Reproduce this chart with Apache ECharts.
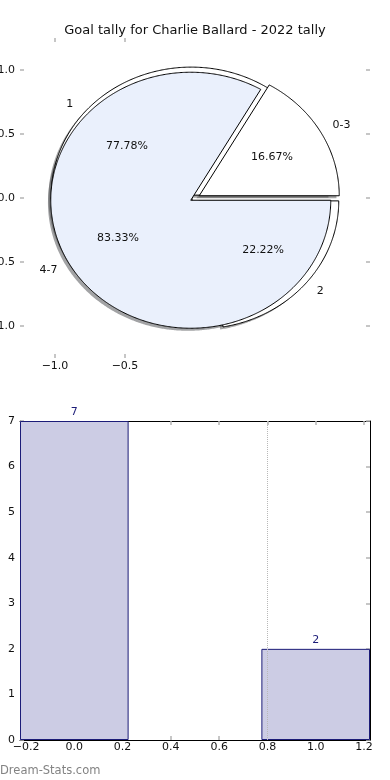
<!DOCTYPE html>
<html><head><meta charset="utf-8">
<script src="https://cdn.jsdelivr.net/npm/echarts@6/dist/echarts.min.js"></script>
<style>html,body{margin:0;padding:0;background:#fff}#c{width:390px;height:780px}</style>
</head><body><div id="c"></div>
<script>
// ---- data ----
const titleText = 'Goal tally for Charlie Ballard - 2022 tally';
const outerLabels = ['1', '2'];
const outerValues = [7, 2];
const innerLabels = ['0-3', '4-7'];
const innerValues = [1, 5];
const barCategories = [0, 1];
const barValues = [7, 2];
const pieXTicks = [-1.0, -0.5];
const pieYTicks = [-1.0, -0.5, 0.0, 0.5, 1.0];
const barXTicks = [-0.2, 0.0, 0.2, 0.4, 0.6, 0.8, 1.0, 1.2];
const barYTicks = [0, 1, 2, 3, 4, 5, 6, 7];
const barRefLines = [0.8];
const watermark = 'Dream-Stats.com';

// ---- styles ----
const FONT = 'DejaVu Sans';
const EXPLODE = 0.035;
const SHADOW_OFF = 0.02;
const outerColors = ['#ffffff', '#ffffff'];
const innerColors = ['#ffffff', '#eaf0fc'];
const TICK = '#b4b4b4';

function fmt1(v) { return (v < 0 ? '\u2212' : '') + Math.abs(v).toFixed(1); }

function sliceGeom(values, i) {
  const total = values.reduce((a, b) => a + b, 0);
  let cum = 0;
  for (let k = 0; k < i; k++) cum += values[k];
  const a0 = 360 * cum / total, a1 = 360 * (cum + values[i]) / total;
  return { a0, a1, mid: (a0 + a1) / 2, frac: values[i] / total };
}

function wedgePoints(api, g, dx, dy) {
  const m = g.mid * Math.PI / 180;
  const cx = EXPLODE * Math.cos(m) + dx, cy = EXPLODE * Math.sin(m) + dy;
  const pts = [api.coord([cx, cy])];
  const n = Math.max(2, Math.ceil((g.a1 - g.a0) * 2));
  for (let k = 0; k <= n; k++) {
    const a = (g.a0 + (g.a1 - g.a0) * k / n) * Math.PI / 180;
    pts.push(api.coord([cx + Math.cos(a), cy + Math.sin(a)]));
  }
  return pts;
}

function shadowColor(hex) {
  const r = parseInt(hex.slice(1, 3), 16), gg = parseInt(hex.slice(3, 5), 16), b = parseInt(hex.slice(5, 7), 16);
  return 'rgba(' + Math.round(r * 0.3) + ',' + Math.round(gg * 0.3) + ',' + Math.round(b * 0.3) + ',0.5)';
}

function pieData(values) { return values.map(v => ({ value: [0, 0, v] })); }

function wedgeSeries(values, colors, z) {
  return {
    type: 'custom', xAxisIndex: 0, yAxisIndex: 0, z: z, silent: true,
    data: pieData(values), encode: { x: 0, y: 1 },
    renderItem: function (params, api) {
      const g = sliceGeom(values, params.dataIndex);
      return { type: 'polygon', shape: { points: wedgePoints(api, g, 0, 0) },
        style: { fill: colors[params.dataIndex], stroke: '#000', lineWidth: 1 } };
    }
  };
}
function shadowSeries(values, colors, z) {
  return {
    type: 'custom', xAxisIndex: 0, yAxisIndex: 0, z: z, silent: true,
    data: pieData(values), encode: { x: 0, y: 1 },
    renderItem: function (params, api) {
      const g = sliceGeom(values, params.dataIndex);
      return { type: 'polygon', shape: { points: wedgePoints(api, g, -SHADOW_OFF, -SHADOW_OFF) },
        style: { fill: shadowColor(colors[params.dataIndex]), stroke: null } };
    }
  };
}
function labelSeries(values, labels, z) {
  return {
    type: 'custom', xAxisIndex: 0, yAxisIndex: 0, z: z, silent: true,
    data: pieData(values), encode: { x: 0, y: 1 },
    renderItem: function (params, api) {
      const g = sliceGeom(values, params.dataIndex);
      const m = g.mid * Math.PI / 180;
      const cx = EXPLODE * Math.cos(m), cy = EXPLODE * Math.sin(m);
      const lp = api.coord([cx + 1.1 * Math.cos(m), cy + 1.1 * Math.sin(m)]);
      const pp = api.coord([cx + 0.6 * Math.cos(m), cy + 0.6 * Math.sin(m)]);
      const right = Math.cos(m) > 0;
      return { type: 'group', children: [
        { type: 'text', x: lp[0], y: lp[1], style: { text: labels[params.dataIndex], fill: '#111',
          font: '11px "' + FONT + '"', align: right ? 'left' : 'right', verticalAlign: 'middle' } },
        { type: 'text', x: pp[0], y: pp[1], style: { text: (g.frac * 100).toFixed(2) + '%', fill: '#111',
          font: '11px "' + FONT + '"', align: 'center', verticalAlign: 'middle' } }
      ] };
    }
  };
}

const tickStyle = { show: true, inside: true, length: 4, lineStyle: { color: TICK, width: 1.5 } };
const labelStyle = { fontFamily: FONT, fontSize: 11, color: '#111' };
const hiddenLine = { show: true, onZero: false, lineStyle: { color: '#fff', opacity: 0 } };
const blackLine = { show: true, onZero: false, lineStyle: { color: '#000', width: 1 } };

const chart = echarts.init(document.getElementById('c'), null, { renderer: 'canvas' });
chart.setOption({
  animation: false,
  backgroundColor: '#fff',
  title: { text: titleText, left: 'center', top: 24, padding: 0,
    textStyle: { fontFamily: FONT, fontSize: 13, fontWeight: 'normal', color: '#111' } },
  graphic: [{ type: 'text', left: 0, top: 765, style: { text: watermark, fill: '#838383', font: '11.5px "' + FONT + '"' } }],
  grid: [
    { left: 20, top: 38, width: 350, height: 320, containLabel: false, outerBoundsMode: 'none' },
    { left: 20, top: 421, width: 350, height: 319, containLabel: false, outerBoundsMode: 'none' }
  ],
  xAxis: [
    { type: 'value', gridIndex: 0, position: 'bottom', min: -1.25, max: 1.25,
      axisLine: hiddenLine, splitLine: { show: false },
      axisTick: Object.assign({}, tickStyle, { customValues: pieXTicks }),
      axisLabel: Object.assign({}, labelStyle, { customValues: pieXTicks, formatter: fmt1, margin: 3 }) },
    { type: 'value', gridIndex: 0, position: 'top', min: -1.25, max: 1.25,
      axisLine: hiddenLine, splitLine: { show: false },
      axisTick: Object.assign({}, tickStyle, { customValues: pieXTicks }),
      axisLabel: { show: false } },
    { type: 'value', gridIndex: 1, position: 'bottom', min: -0.225, max: 1.225,
      axisLine: blackLine, splitLine: { show: false },
      axisTick: Object.assign({}, tickStyle, { customValues: barXTicks }),
      axisLabel: Object.assign({}, labelStyle, { customValues: barXTicks, formatter: fmt1, margin: 2 }) },
    { type: 'value', gridIndex: 1, position: 'top', min: -0.225, max: 1.225,
      axisLine: blackLine, splitLine: { show: false },
      axisTick: Object.assign({}, tickStyle, { customValues: barXTicks }),
      axisLabel: { show: false } }
  ],
  yAxis: [
    { type: 'value', gridIndex: 0, position: 'left', min: -1.25, max: 1.25,
      axisLine: hiddenLine, splitLine: { show: false },
      axisTick: Object.assign({}, tickStyle, { customValues: pieYTicks }),
      axisLabel: Object.assign({}, labelStyle, { customValues: pieYTicks, formatter: fmt1, margin: 5 }) },
    { type: 'value', gridIndex: 0, position: 'right', min: -1.25, max: 1.25,
      axisLine: hiddenLine, splitLine: { show: false },
      axisTick: Object.assign({}, tickStyle, { customValues: pieYTicks }),
      axisLabel: { show: false } },
    { type: 'value', gridIndex: 1, position: 'left', min: 0, max: 7, interval: 1,
      axisLine: blackLine, splitLine: { show: false },
      axisTick: Object.assign({}, tickStyle, { customValues: barYTicks }),
      axisLabel: Object.assign({}, labelStyle, { customValues: barYTicks, margin: 5 }) },
    { type: 'value', gridIndex: 1, position: 'right', min: 0, max: 7, interval: 1,
      axisLine: blackLine, splitLine: { show: false },
      axisTick: Object.assign({}, tickStyle, { customValues: barYTicks }),
      axisLabel: { show: false } }
  ],
  series: [
    shadowSeries(outerValues, outerColors, 1),
    shadowSeries(innerValues, innerColors, 1),
    wedgeSeries(outerValues, outerColors, 2),
    wedgeSeries(innerValues, innerColors, 3),
    labelSeries(outerValues, outerLabels, 4),
    labelSeries(innerValues, innerLabels, 4),
    {
      type: 'bar', xAxisIndex: 2, yAxisIndex: 2, z: 2,
      data: barCategories.map((c, i) => [c, barValues[i]]),
      barWidth: '45%',
      itemStyle: { color: '#cccce4', borderColor: '#1c1c78', borderWidth: 1 },
      label: { show: true, position: 'top', distance: 3, color: '#1c1c78', fontFamily: FONT, fontSize: 11 },
      markLine: { silent: true, symbol: ['none', 'none'], label: { show: false },
        lineStyle: { type: 'dotted', color: '#b8b8b8', width: 1 },
        data: barRefLines.map(v => ({ xAxis: v })) }
    }
  ]
});
</script>
</body></html>
